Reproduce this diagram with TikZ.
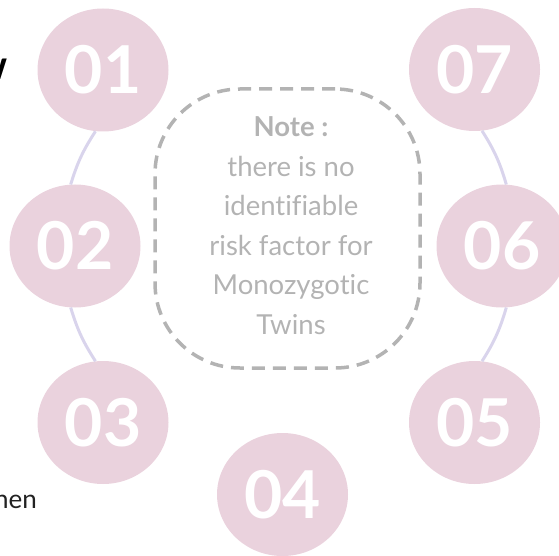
\documentclass[tikz,border=0pt]{standalone}
\usepackage{fontspec}
\setmainfont{Lato}[Ligatures={NoCommon}]
\usetikzlibrary{shapes.geometric}
\definecolor{dotpink}{HTML}{EAD2DD}
\definecolor{linklav}{HTML}{D9D4EC}
\definecolor{notegray}{HTML}{B3B3B3}
\definecolor{darktext}{HTML}{222222}
\begin{document}
\begin{tikzpicture}[x=1pt,y=-1pt,
  numdot/.style={ellipse, fill=dotpink, minimum width=131pt, minimum height=123pt, inner sep=0pt, text=white, font=\fontsize{66}{66}\selectfont\bfseries},
  link/.style={draw=linklav, line width=3pt},
  notebox/.style={draw=notegray, line width=3.5pt, dash pattern=on 13pt off 8pt, rounded corners=85pt, minimum width=265pt, minimum height=279pt},
  noteline/.style={text=notegray, font=\fontsize{27.5}{27.5}\selectfont, anchor=base, inner sep=0pt},
  fragment/.style={text=darktext, anchor=base east, inner sep=0pt}]
\useasboundingbox (0,0) rectangle (559,556);
% numbered circles
\node[numdot] (n01) at (103,70) {01};
\node[numdot] (n02) at (75,246) {02};
\node[numdot] (n03) at (103,422.5) {03};
\node[numdot] (n04) at (282.5,494.5) {04};
\node[numdot] (n05) at (474.5,422.5) {05};
\node[numdot] (n06) at (502,246) {06};
\node[numdot] (n07) at (474.5,69.5) {07};
% connectors
\draw[link] (n01.-97) to[bend right=8] (n02.94);
\draw[link] (n02.-94) to[bend right=8] (n03.97);
\draw[link] (n07.-83) to[bend left=8] (n06.86);
\draw[link] (n06.-86) to[bend left=8] (n05.83);
% note box
\node[notebox] (note) at (287.5,228.5) {};
\node[noteline, font=\fontsize{27.5}{27.5}\selectfont\bfseries] (l0) at (291,136.5) {Note :};
\node[noteline] (l1) at (291,176) {there is no};
\node[noteline] (l2) at (291,215.5) {identifiable};
\node[noteline] (l3) at (291,255) {risk factor for};
\node[noteline] (l4) at (291,294.5) {Monozygotic};
\node[noteline] (l5) at (291,334) {Twins};
% cut-off text fragments (cut by the picture's edge, as in the reference)
\node[fragment, text=black, font=\fontsize{40}{40}\selectfont\bfseries] (fw) at (8,80) {w};
\node[fragment, font=\fontsize{26}{26}\selectfont] (fhen) at (37,508) {hen};
\end{tikzpicture}
\end{document}
